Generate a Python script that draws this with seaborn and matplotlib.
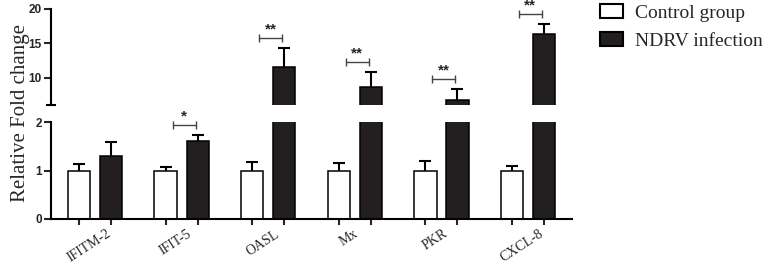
import numpy as np
import pandas as pd
import matplotlib
matplotlib.use("Agg")
import matplotlib.pyplot as plt
import matplotlib.patches as mpatches
from matplotlib.transforms import ScaledTranslation
import seaborn as sns

# data
genes = ['IFITM-2', 'IFIT-5', 'OASL', 'Mx', 'PKR', 'CXCL-8']
groups = ['Control group', 'NDRV infection']
ctrl_mean = [1.0, 1.0, 1.0, 1.0, 1.0, 1.0]
ctrl_sd = [0.13, 0.07, 0.17, 0.15, 0.19, 0.10]
ndrv_mean = [1.30, 1.60, 11.6, 8.6, 6.8, 16.4]
ndrv_sd = [0.28, 0.14, 2.7, 2.2, 1.55, 1.4]
signif = ['', '*', '**', '**', '**', '**']

df = pd.DataFrame({
    'gene': genes * 2,
    'group': [groups[0]] * len(genes) + [groups[1]] * len(genes),
    'fold': ctrl_mean + ndrv_mean,
})

sns.set_style('ticks')
plt.rcParams['font.family'] = ['Liberation Serif', 'DejaVu Serif']
plt.rcParams['axes.linewidth'] = 1.5
plt.rcParams['axes.edgecolor'] = 'black'

colors = ['white', '#231f20']
break_low, break_high = 2, 6

fig = plt.figure(figsize=(7.65, 2.65), dpi=100)
ax_top = fig.add_axes([0.0667, 0.6038, 0.681, 0.3623])
ax_bot = fig.add_axes([0.0667, 0.1736, 0.681, 0.366])

# interleave per gene: control, infection
means = np.ravel(np.column_stack([ctrl_mean, ndrv_mean]))
sds = np.ravel(np.column_stack([ctrl_sd, ndrv_sd]))

for ax in (ax_top, ax_bot):
    sns.barplot(data=df, x='gene', y='fold', hue='group', order=genes,
                hue_order=groups, palette=colors, saturation=1,
                edgecolor='black', linewidth=1.1, width=0.74, gap=0.3,
                errorbar=None, legend=False, ax=ax, zorder=2)
    bars = sorted(ax.patches, key=lambda p: p.get_x())
    xs = np.array([p.get_x() + p.get_width() / 2 for p in bars])
    # upward only error bars
    ax.vlines(xs, means, means + sds, color='black', lw=1.5, zorder=1)
    ax.plot(xs, means + sds, ls='none', marker='_', markersize=8.6,
            mew=1.5, color='black', zorder=1)
    ax.set_xlim(-0.51, len(genes) - 0.49)
    ax.set_xlabel('')
    ax.set_ylabel('')
    sns.despine(ax=ax)

ax_top.set_ylim(break_high, 20)
ax_top.set_yticks([10, 15, 20])
ax_top.spines['bottom'].set_visible(False)
ax_top.tick_params(axis='x', bottom=False, labelbottom=False)
ax_top.plot([0], [0], marker='_', markersize=7, mew=1.5, color='black',
            transform=ax_top.transAxes, clip_on=False)

ax_bot.set_ylim(0, break_low)
ax_bot.set_yticks([0, 1, 2])

for ax in (ax_top, ax_bot):
    ax.tick_params(axis='y', length=5, width=1.5, pad=1.5, labelsize=8.5)
    for lbl in ax.get_yticklabels():
        lbl.set_fontfamily(['Liberation Sans'])
        lbl.set_fontweight('bold')

# x ticks: marks under each bar, one label per gene
ax_bot.set_xticks(xs, minor=True)
ax_bot.set_xticks(range(len(genes)))
ax_bot.set_xticklabels(genes, rotation=33, ha='center', fontsize=10)
ax_bot.tick_params(axis='x', which='minor', length=4, width=1.5)
ax_bot.tick_params(axis='x', which='major', length=0, pad=6)
shift = ScaledTranslation(-0.06, 0, fig.dpi_scale_trans)
for lbl in ax_bot.get_xticklabels():
    lbl.set_transform(lbl.get_transform() + shift)

# significance brackets
for i, lab in enumerate(signif):
    if not lab:
        continue
    top = ndrv_mean[i] + ndrv_sd[i]
    ax = ax_top if top > break_high else ax_bot
    x0 = xs[2 * i] + 0.08
    x1 = xs[2 * i + 1] - 0.025
    tr = ax.transData + ScaledTranslation(0, 0.10, fig.dpi_scale_trans)
    ax.plot([x0, x1], [top, top], color='#444444', lw=1.0, marker='|',
            markersize=6, mew=1.0, transform=tr, clip_on=False)
    tr2 = ax.transData + ScaledTranslation(0, 0.185, fig.dpi_scale_trans)
    ax.text((x0 + x1) / 2, top, lab, transform=tr2, ha='center', va='center',
            fontsize=11, fontweight='bold', family=['Liberation Sans'],
            clip_on=False)

fig.text(0.027, 0.575, 'Relative Fold change', rotation=90, ha='center',
         va='center', fontsize=15)

handles = [mpatches.Patch(facecolor=c, edgecolor='black', linewidth=1.5)
           for c in colors]
fig.legend(handles, groups, loc='upper left', bbox_to_anchor=(0.784, 0.985),
           frameon=False, fontsize=14, handlelength=1.2, handleheight=0.72,
           handletextpad=0.6, labelspacing=0.55, borderaxespad=0, borderpad=0)

fig.savefig('out.png', dpi=100)
